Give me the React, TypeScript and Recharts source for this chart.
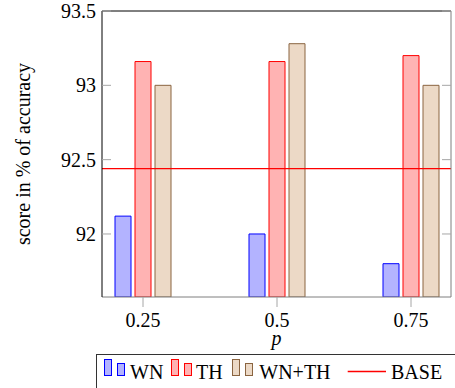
import React from 'react';
import { BarChart, Bar, XAxis, YAxis, ReferenceLine } from 'recharts';

// p values on the x axis
const pValues = [0.25, 0.5, 0.75];
const wnScores = [92.12, 92.0, 91.8];
const thScores = [93.16, 93.16, 93.2];
const wnThScores = [93.0, 93.28, 93.0];
const baseScore = 92.44;

const yTicks = [92, 92.5, 93, 93.5];
const xTicks = [0.25, 0.5, 0.75];
const yDomain = [91.576, 93.5];
const xDomain = [0.1735, 0.8246];

const FONT = "'Liberation Serif', 'Times New Roman', Tinos, serif";
const TICK = '#a6a6a6';
const GREY_AXIS = '#7f7f7f';
const txt: React.CSSProperties = { fontFamily: FONT, fontSize: 20 };

const series = [
    { key: 'wn', name: 'WN', fill: '#b3b3ff', stroke: '#0000ff' },
    { key: 'th', name: 'TH', fill: '#ffb3b3', stroke: '#ff0000' },
    { key: 'wnth', name: 'WN+TH', fill: '#ecd9c6', stroke: '#8a6440' },
];

const data = pValues.map((p, i) => ({
    p,
    wn: wnScores[i],
    th: thScores[i],
    wnth: wnThScores[i],
}));

const LeftTick = (props: any) => {
    const { x, y, payload } = props;
    return (
        <g>
            <line x1={x + 6} x2={x + 15} y1={y} y2={y} stroke={TICK} strokeWidth={1} />
            <text x={x} y={y} dy={7} textAnchor="end" style={txt} fill="#000">
                {payload.value}
            </text>
        </g>
    );
};

const RightTick = (props: any) => {
    const { x, y } = props;
    return <line x1={x - 9} x2={x} y1={y} y2={y} stroke={TICK} strokeWidth={1} />;
};

const BottomTick = (props: any) => {
    const { x, y, payload } = props;
    return (
        <text x={x} y={y + 20} textAnchor="middle" style={txt} fill="#000">
            {payload.value}
        </text>
    );
};

const YTitle = (props: any) => {
    const vb = props.viewBox;
    const cy = vb.y + vb.height / 2;
    const cx = 29.5;
    return (
        <text x={cx} y={cy} transform={`rotate(-90, ${cx}, ${cy})`} textAnchor="middle" style={txt} fill="#000">
            score in % of accuracy
        </text>
    );
};

const XTitle = (props: any) => {
    const vb = props.viewBox;
    return (
        <text x={vb.x + vb.width / 2} y={345} textAnchor="middle" style={{ ...txt, fontStyle: 'italic' }} fill="#000">
            p
        </text>
    );
};

// legend drawn by hand, pgfplots style
function LegendBox() {
    const starts = [7.5, 74.5, 135.5];
    const textX = [33, 99, 162.3];
    return (
        <div
            style={{
                position: 'absolute',
                left: 96,
                top: 354,
                width: 359,
                height: 34,
                borderTop: '1px solid #333',
                borderLeft: '1px solid #333',
                boxSizing: 'border-box',
            }}
        >
            <svg width={358} height={33} style={{ position: 'absolute', left: 0, top: 0 }}>
                {series.map((s, i) => (
                    <g key={s.key}>
                        <rect x={starts[i]} y={4.5} width={7} height={16} fill={s.fill} stroke={s.stroke} />
                        <rect x={starts[i] + 13} y={8.5} width={7} height={12} fill={s.fill} stroke={s.stroke} />
                        <text x={textX[i]} y={24} style={txt} fill="#000">
                            {s.name}
                        </text>
                    </g>
                ))}
                <line x1={250.7} x2={289} y1={16.5} y2={16.5} stroke="#ff0000" strokeWidth={1.3} />
                <text x={294} y={24} style={txt} fill="#000">
                    BASE
                </text>
            </svg>
        </div>
    );
}

export default function App() {
    return (
        <div style={{ position: 'absolute', left: 0, top: 0, width: 455, height: 388, overflow: 'hidden', background: '#fff' }}>
            <BarChart
                width={455}
                height={388}
                data={data}
                margin={{ top: 0, right: 0, left: 0, bottom: 51 }}
                barGap={4}
            >
                <XAxis
                    dataKey="p"
                    type="number"
                    domain={xDomain}
                    allowDataOverflow
                    ticks={xTicks}
                    height={40}
                    tickSize={10}
                    tickMargin={0}
                    tickLine={{ stroke: TICK }}
                    axisLine={{ stroke: GREY_AXIS }}
                    tick={<BottomTick />}
                    label={<XTitle />}
                />
                <XAxis
                    xAxisId="top"
                    orientation="top"
                    dataKey="p"
                    type="number"
                    domain={xDomain}
                    allowDataOverflow
                    ticks={xTicks}
                    height={11}
                    tickSize={11}
                    tickLine={{ stroke: TICK }}
                    axisLine={{ stroke: '#000' }}
                    tick={false}
                />
                <YAxis
                    type="number"
                    domain={yDomain}
                    allowDataOverflow
                    ticks={yTicks}
                    width={102}
                    tickSize={0}
                    tickMargin={6}
                    tickLine={false}
                    axisLine={{ stroke: '#000' }}
                    tick={<LeftTick />}
                    label={<YTitle />}
                />
                <YAxis
                    yAxisId="right"
                    orientation="right"
                    type="number"
                    domain={yDomain}
                    allowDataOverflow
                    ticks={yTicks}
                    width={4}
                    tickSize={0}
                    tickMargin={0}
                    tickLine={false}
                    axisLine={{ stroke: GREY_AXIS }}
                    tick={<RightTick />}
                />
                {series.map((s) => (
                    <Bar
                        key={s.key}
                        dataKey={s.key}
                        name={s.name}
                        fill={s.fill}
                        stroke={s.stroke}
                        strokeWidth={1}
                        barSize={16}
                        isAnimationActive={false}
                    />
                ))}
                <ReferenceLine y={baseScore} stroke="#ff0000" strokeWidth={1.2} />
            </BarChart>
            <LegendBox />
        </div>
    );
}
